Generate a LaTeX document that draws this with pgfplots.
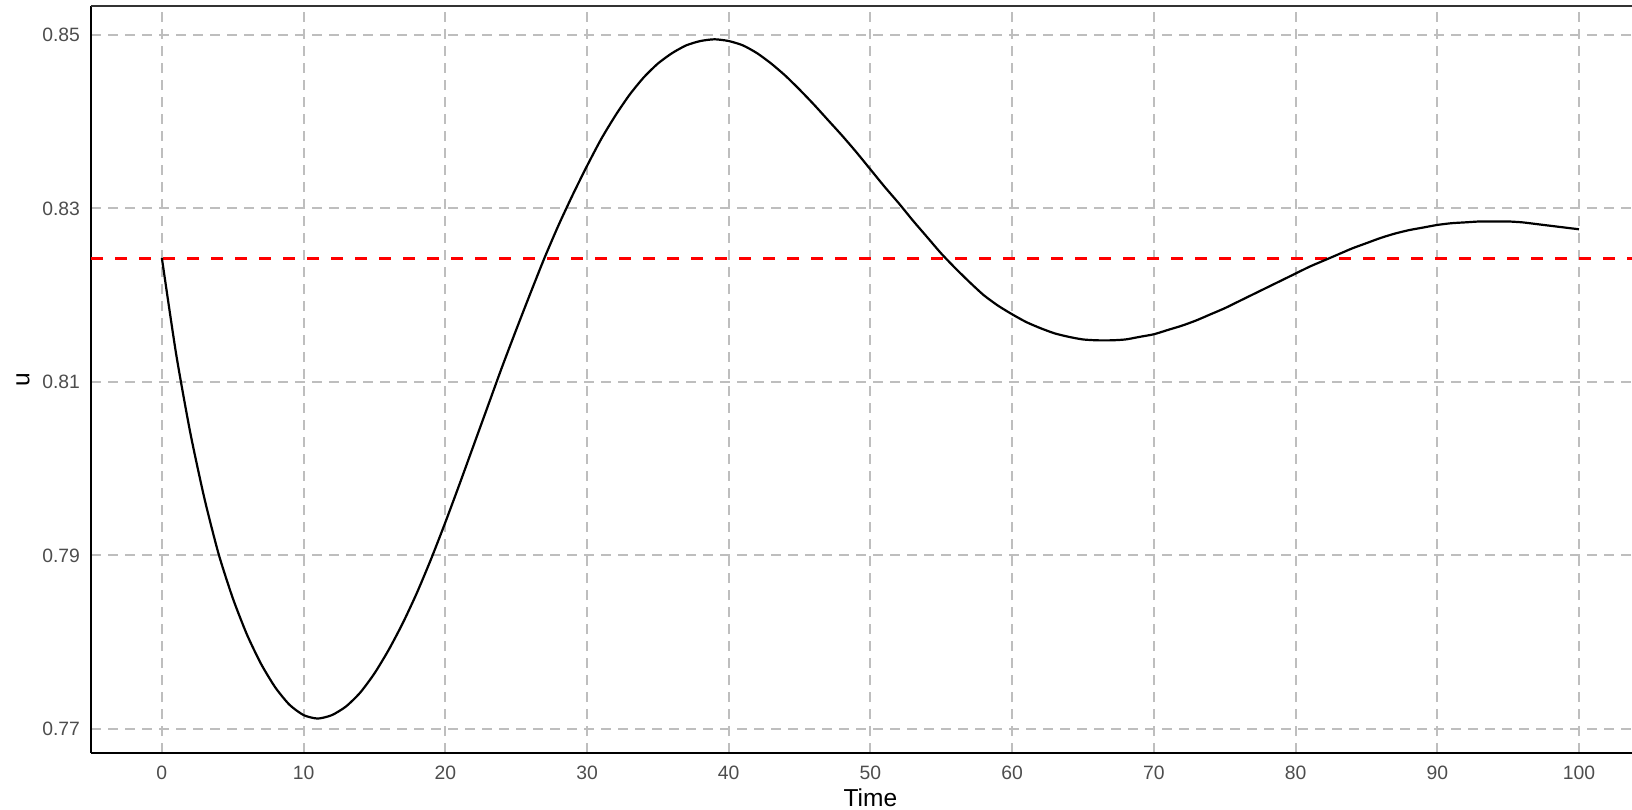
\documentclass[border=0pt]{standalone}
\usepackage{pgfplots}
\pgfplotsset{compat=1.18}
\usepackage{fontspec}
\setmainfont{Liberation Sans}

\definecolor{gridgrey}{HTML}{BEBEBE}
\definecolor{ticktext}{HTML}{4D4D4D}

\begin{document}
\begin{tikzpicture}
\begin{axis}[
    name=ax,
    scale only axis,
    width=770.5bp,
    height=373.5bp,
    xmin=-5, xmax=103.74,
    ymin=0.76723, ymax=0.85334,
    xtick={0,10,...,100},
    ytick={0.77,0.79,0.81,0.83,0.85},
    axis x line*=bottom,
    axis y line*=left,
    axis line style={-, black, line width=1.3bp},
    major tick length=0pt,
    grid=major,
    major grid style={gridgrey, line width=1bp, dash pattern=on 5bp off 3.5bp},
    tick label style={font=\fontsize{9.7}{11}\selectfont, text=ticktext},
    /pgf/number format/assume math mode=true,
    yticklabel style={/pgf/number format/fixed, /pgf/number format/fixed zerofill, /pgf/number format/precision=2, xshift=-2bp},
    xticklabel style={yshift=-3bp},
    xlabel={Time},
    ylabel={u},
    label style={font=\fontsize{12.3}{14}\selectfont},
    xlabel style={at={(axis description cs:0.5058,0)}, anchor=north, yshift=-14.5bp},
    ylabel style={at={(axis description cs:-0.0441,0.5)}, anchor=center},
    clip=false,
]
% equilibrium level
\addplot[red, line width=1.5bp, dash pattern=on 6bp off 6bp] coordinates {
    (-5,0.8242) (103.74,0.8242)
};
% u(t)
\addplot[black, line width=1.1bp, smooth, tension=0.4] coordinates {
    (0,0.8243) (1,0.8133) (2,0.8042) (3,0.7966) (4,0.7902)
    (5,0.7851) (6,0.7809) (7,0.7775) (8,0.7748) (9,0.7728)
    (10,0.7716) (11,0.7712) (12,0.7716) (13,0.7726) (14,0.7742)
    (15,0.7764) (16,0.7791) (17,0.7822) (18,0.7857) (19,0.7896)
    (20,0.7938) (21,0.7982) (22,0.8027) (23,0.8072) (24,0.8117)
    (25,0.8160) (26,0.8202) (27,0.8243) (28,0.8281) (29,0.8316)
    (30,0.8349) (31,0.8380) (32,0.8407) (33,0.8431) (34,0.8451)
    (35,0.8467) (36,0.8479) (37,0.8488) (38,0.8493) (39,0.8495)
    (40,0.8493) (41,0.8488) (42,0.8479) (43,0.8467) (44,0.8453)
    (45,0.8437) (46,0.8420) (47,0.8402) (48,0.8384) (49,0.8365)
    (50,0.8345) (51,0.8325) (52,0.8306) (53,0.8286) (54,0.8267)
    (55,0.8248) (56,0.8231) (57,0.8215) (58,0.8200) (59,0.8188)
    (60,0.8178) (61,0.8169) (62,0.8162) (63,0.8156) (64,0.8152)
    (65,0.8149) (66,0.8148) (67,0.8148) (68,0.8149) (69,0.8152)
    (70,0.8155) (71,0.8160) (72,0.8165) (73,0.8171) (74,0.8178)
    (75,0.8185) (76,0.8193) (77,0.8201) (78,0.8209) (79,0.8217)
    (80,0.8225) (81,0.8233) (82,0.8240) (83,0.8247) (84,0.8254)
    (85,0.8260) (86,0.8266) (87,0.8271) (88,0.8275) (89,0.8278)
    (90,0.8281) (91,0.8283) (92,0.8284) (93,0.8285) (94,0.8285)
    (95,0.8285) (96,0.8284) (97,0.8282) (98,0.8280) (99,0.8278)
    (100,0.8276)
};
\draw[black!80, line width=1bp] (rel axis cs:0,1) -- (rel axis cs:1,1);
\end{axis}
\pgfresetboundingbox
\path[use as bounding box] ([shift={(-45.5bp,-28.5bp)}]ax.south west) rectangle ([shift={(0bp,3bp)}]ax.north east);
\end{tikzpicture}
\end{document}
